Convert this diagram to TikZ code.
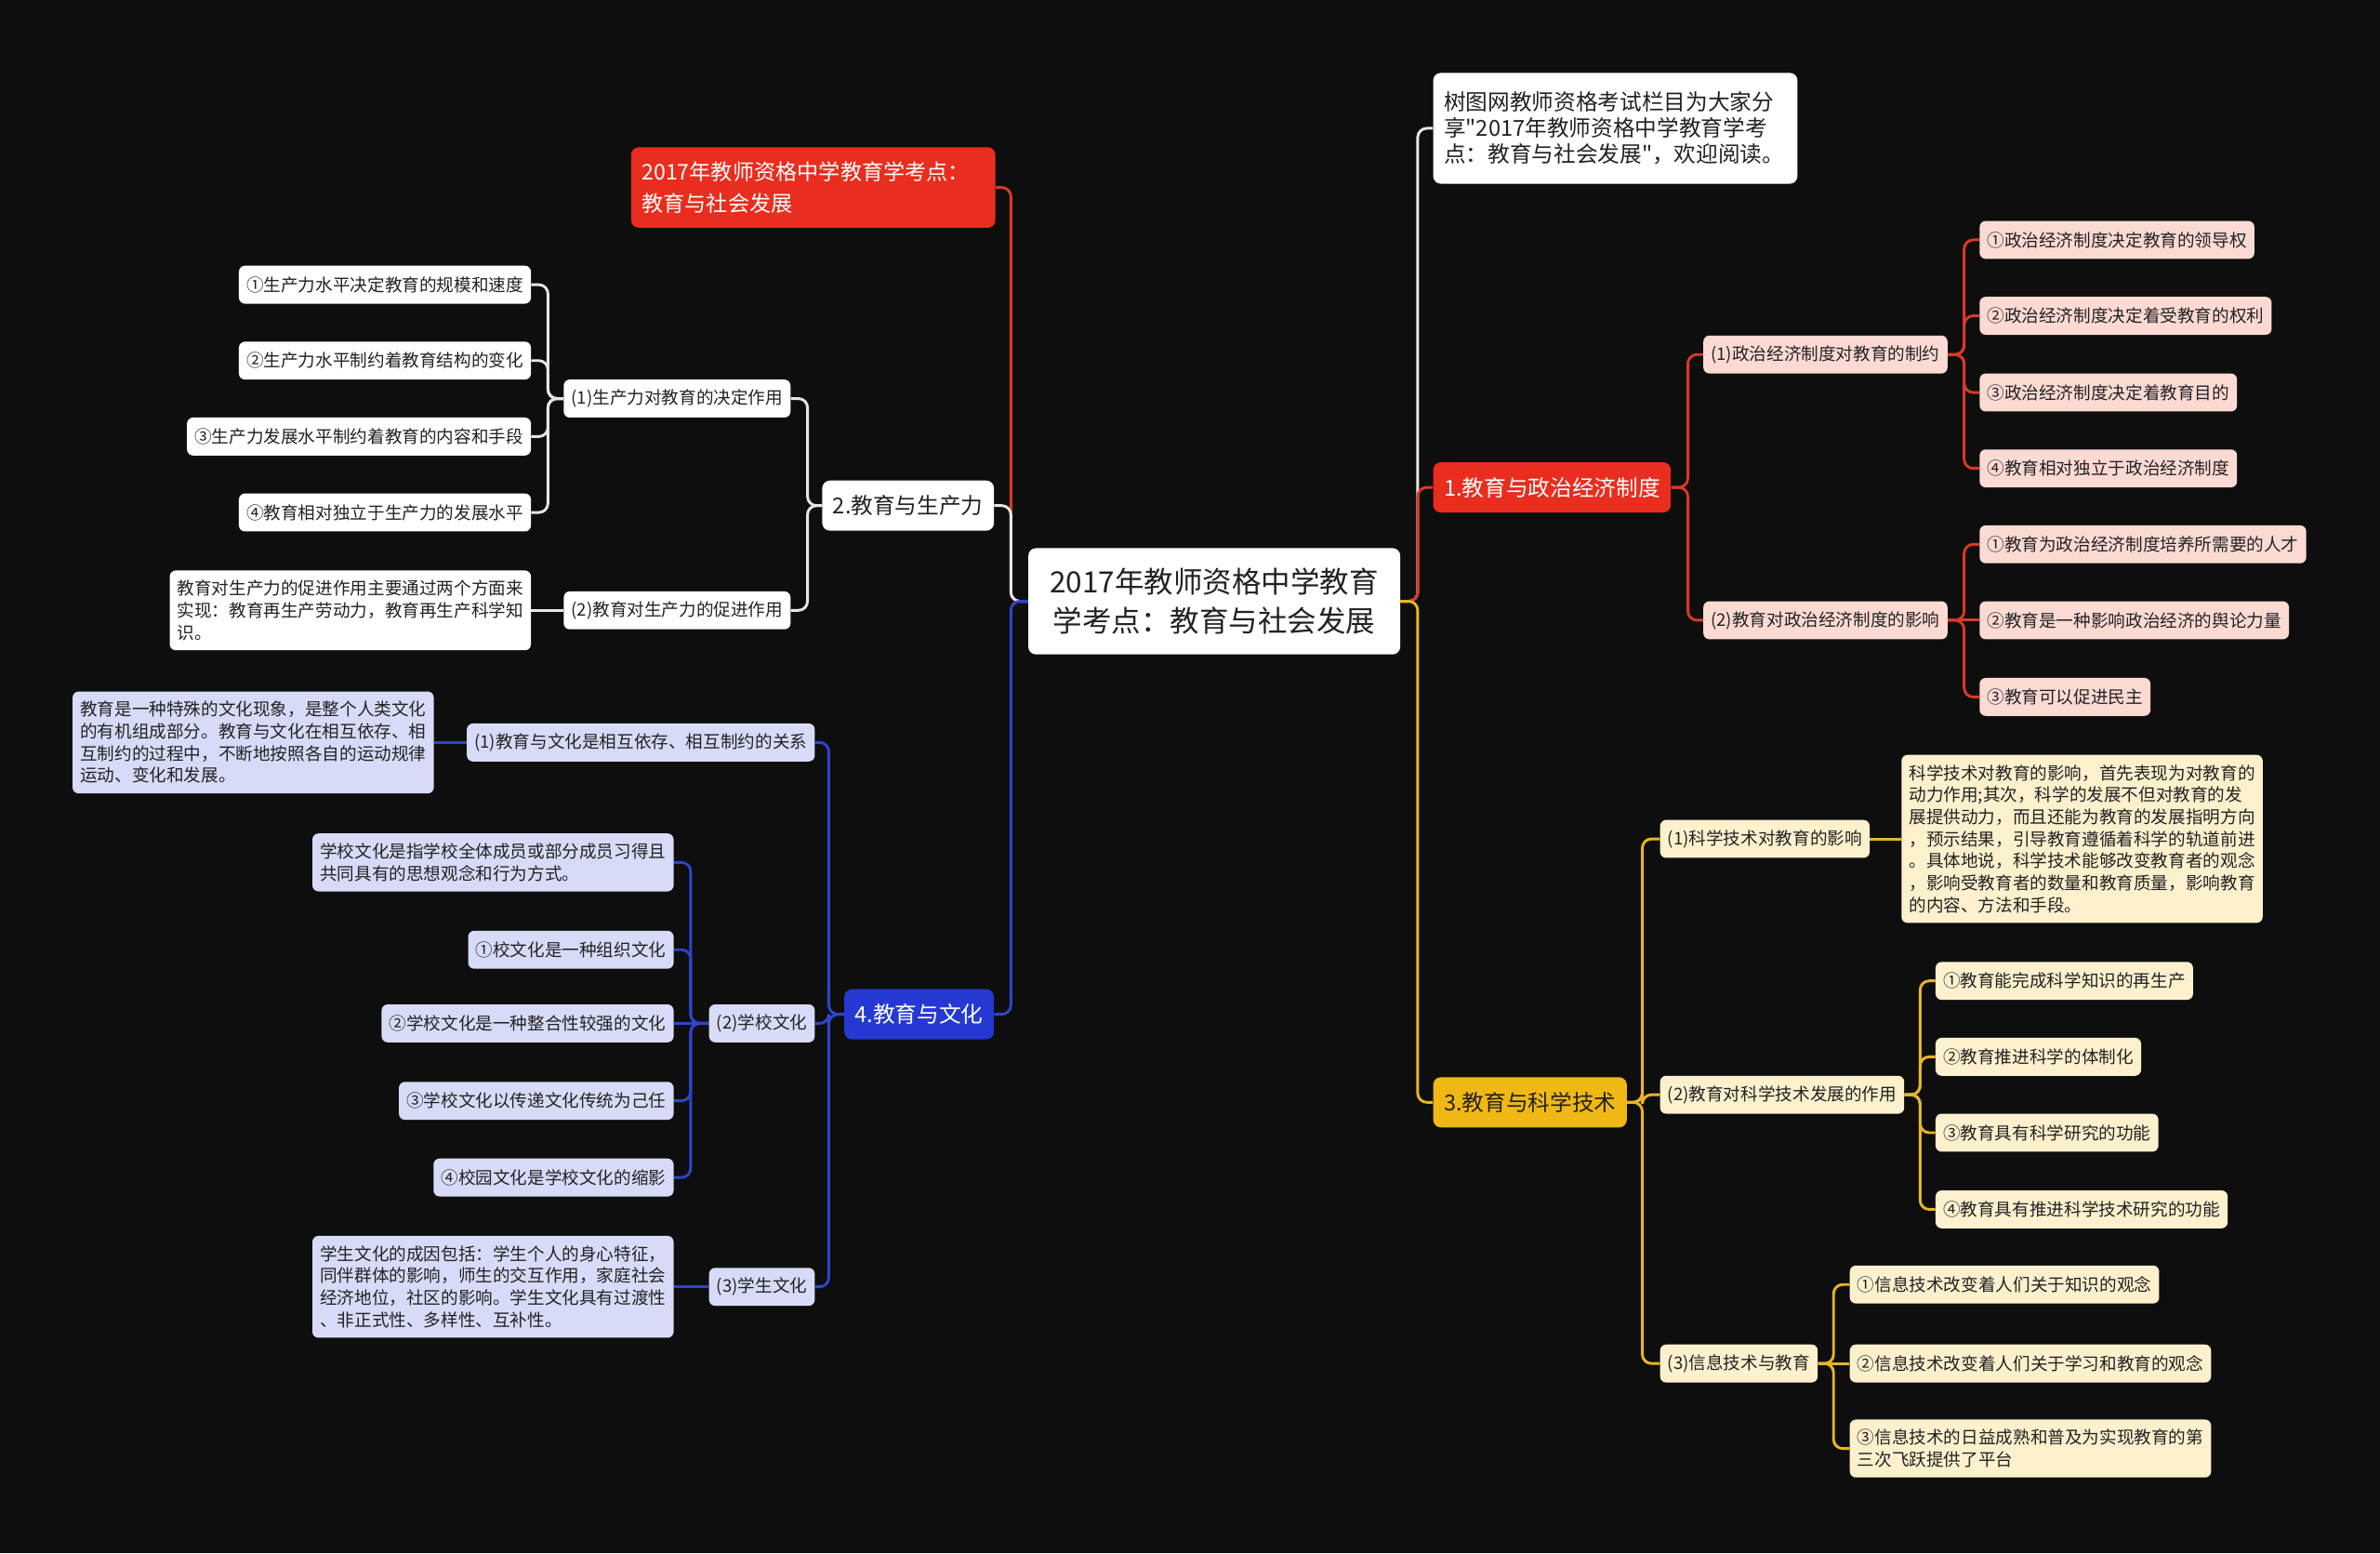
\documentclass[tikz,border=0pt]{standalone}
\usepackage{fontspec}
\setmainfont{Noto Sans CJK SC}[Ligatures=TeXOff]
\usetikzlibrary{backgrounds}
\definecolor{bg}{HTML}{0E0E0E}
\definecolor{txt}{HTML}{222222}
\definecolor{redm}{HTML}{E92D1E}
\definecolor{redl}{HTML}{D83A28}
\definecolor{pinkf}{HTML}{FCDAD4}
\definecolor{yelm}{HTML}{F0B814}
\definecolor{yell}{HTML}{E9B526}
\definecolor{creamf}{HTML}{FDF0CD}
\definecolor{bluem}{HTML}{2539D2}
\definecolor{bluel}{HTML}{2E45CC}
\definecolor{lavf}{HTML}{D7DBF7}
\definecolor{whl}{HTML}{E6E6E6}
\newcommand\myfs[2]{\fontsize{#1}{#2}\selectfont}
\newcommand\lk[4]{\draw[conn,#1] (#2) -- (#2 -| #3) |- (#4);}
\newcommand\st[3]{\draw[conn,#1] (#2) -- (#2 -| #3);}
\tikzset{
  nd/.style={rounded corners=4pt, inner xsep=5pt, inner ysep=0pt, minimum height=25pt, font=\myfs{11.4}{14.5}, text=txt},
  pk/.style={nd, fill=pinkf},
  cr/.style={nd, fill=creamf},
  lv/.style={nd, fill=lavf},
  wh/.style={nd, fill=white},
  blk/.style={align=left, inner ysep=6.5pt},
  mainn/.style={rounded corners=5pt, inner xsep=7pt, inner ysep=0pt, minimum height=33pt, font=\myfs{14.5}{17}},
  conn/.style={line width=1.8pt, rounded corners=6pt},
}
\begin{document}
\begin{tikzpicture}[x=1pt,y=-1pt]
\useasboundingbox (0,0) rectangle (1568,1023);
% root and main branches
\node[fill=white, text=txt, rounded corners=5pt, align=center, font=\myfs{19.3}{26}, minimum width=245pt, minimum height=70pt, inner sep=0pt] (root) at (800,396) {2017年教师资格中学教育\\学考点：教育与社会发展};
\node[fill=redm, text=white, rounded corners=5pt, align=left, text width=226pt, inner xsep=7pt, inner ysep=0pt, minimum height=53pt, font=\myfs{14.2}{20.4}, anchor=east] (title) at (656,123.5) {2017年教师资格中学教育学考点：\\教育与社会发展};
\node[fill=white, text=txt, rounded corners=5pt, align=left, text width=226pt, inner xsep=7pt, inner ysep=0pt, minimum height=73pt, font=\myfs{14.5}{17}, anchor=west] (intro) at (944,84.5) {树图网教师资格考试栏目为大家分\\享"2017年教师资格中学教育学考\\点：教育与社会发展"，欢迎阅读。};
\node[mainn, fill=redm, text=white, anchor=west] (b1) at (944,321) {1.教育与政治经济制度};
\node[mainn, fill=white, text=txt, anchor=east] (b2) at (655,333) {2.教育与生产力};
\node[mainn, fill=yelm, text=txt, anchor=west] (b3) at (944,726) {3.教育与科学技术};
\node[mainn, fill=bluem, text=white, anchor=east] (b4) at (655,668) {4.教育与文化};
% branch 2
\node[wh, anchor=east] (p1) at (521,262.5) {(1)生产力对教育的决定作用};
\node[wh, anchor=east] (p2) at (521,402) {(2)教育对生产力的促进作用};
\node[wh, anchor=east] (p11) at (350,187.5) {①生产力水平决定教育的规模和速度};
\node[wh, anchor=east] (p12) at (350,237.5) {②生产力水平制约着教育结构的变化};
\node[wh, anchor=east] (p13) at (350,287.5) {③生产力发展水平制约着教育的内容和手段};
\node[wh, anchor=east] (p14) at (350,337.5) {④教育相对独立于生产力的发展水平};
\node[wh, blk, anchor=east] (pA) at (350,402) {教育对生产力的促进作用主要通过两个方面来\\实现：教育再生产劳动力，教育再生产科学知\\识。};
% branch 4
\node[lv, anchor=east] (c1) at (537,489) {(1)教育与文化是相互依存、相互制约的关系};
\node[lv, blk, anchor=east] (cB) at (286,489) {教育是一种特殊的文化现象，是整个人类文化\\的有机组成部分。教育与文化在相互依存、相\\互制约的过程中，不断地按照各自的运动规律\\运动、变化和发展。};
\node[lv, anchor=east] (c2) at (537,674) {(2)学校文化};
\node[lv, blk, anchor=east] (cC) at (444,568) {学校文化是指学校全体成员或部分成员习得且\\共同具有的思想观念和行为方式。};
\node[lv, anchor=east] (c21) at (444,625.5) {①校文化是一种组织文化};
\node[lv, anchor=east] (c22) at (444,674) {②学校文化是一种整合性较强的文化};
\node[lv, anchor=east] (c23) at (444,725) {③学校文化以传递文化传统为己任};
\node[lv, anchor=east] (c24) at (444,775.5) {④校园文化是学校文化的缩影};
\node[lv, anchor=east] (c3) at (537,847.5) {(3)学生文化};
\node[lv, blk, anchor=east] (cD) at (444,847.5) {学生文化的成因包括：学生个人的身心特征，\\同伴群体的影响，师生的交互作用，家庭社会\\经济地位，社区的影响。学生文化具有过渡性\\、非正式性、多样性、互补性。};
% branch 1
\node[pk, anchor=west] (a1) at (1122,233.5) {(1)政治经济制度对教育的制约};
\node[pk, anchor=west] (a11) at (1304,158) {①政治经济制度决定教育的领导权};
\node[pk, anchor=west] (a12) at (1304,208) {②政治经济制度决定着受教育的权利};
\node[pk, anchor=west] (a13) at (1304,258.5) {③政治经济制度决定着教育目的};
\node[pk, anchor=west] (a14) at (1304,308.5) {④教育相对独立于政治经济制度};
\node[pk, anchor=west] (a2) at (1122,408.5) {(2)教育对政治经济制度的影响};
\node[pk, anchor=west] (a21) at (1304,358.5) {①教育为政治经济制度培养所需要的人才};
\node[pk, anchor=west] (a22) at (1304,408.5) {②教育是一种影响政治经济的舆论力量};
\node[pk, anchor=west] (a23) at (1304,459) {③教育可以促进民主};
% branch 3
\node[cr, anchor=west] (s1) at (1093.5,552.5) {(1)科学技术对教育的影响};
\node[cr, blk, anchor=west] (sE) at (1252.5,552.5) {科学技术对教育的影响，首先表现为对教育的\\动力作用;其次，科学的发展不但对教育的发\\展提供动力，而且还能为教育的发展指明方向\\，预示结果，引导教育遵循着科学的轨道前进\\。具体地说，科学技术能够改变教育者的观念\\，影响受教育者的数量和教育质量，影响教育\\的内容、方法和手段。};
\node[cr, anchor=west] (s2) at (1093.5,721) {(2)教育对科学技术发展的作用};
\node[cr, anchor=west] (s21) at (1275,646) {①教育能完成科学知识的再生产};
\node[cr, anchor=west] (s22) at (1275,696) {②教育推进科学的体制化};
\node[cr, anchor=west] (s23) at (1275,746) {③教育具有科学研究的功能};
\node[cr, anchor=west] (s24) at (1275,796.5) {④教育具有推进科学技术研究的功能};
\node[cr, anchor=west] (s3) at (1093.5,898) {(3)信息技术与教育};
\node[cr, anchor=west] (s31) at (1218.5,846) {①信息技术改变着人们关于知识的观念};
\node[cr, anchor=west] (s32) at (1218.5,898) {②信息技术改变着人们关于学习和教育的观念};
\node[cr, blk, anchor=west] (s33) at (1218.5,954) {③信息技术的日益成熟和普及为实现教育的第\\三次飞跃提供了平台};
% trunks
\coordinate (tL) at (666,0);
\coordinate (tR) at (934,0);
\coordinate (t2) at (532,0);
\coordinate (t21) at (361,0);
\coordinate (t4) at (546,0);
\coordinate (t42) at (455,0);
\coordinate (t1) at (1112,0);
\coordinate (t11) at (1294,0);
\coordinate (t3) at (1082,0);
\coordinate (t32) at (1265,0);
\coordinate (t33) at (1208,0);
\begin{pgfonlayer}{background}
\fill[bg] (0,0) rectangle (1568,1023);
% root
\lk{redl}{root.west}{tL}{title.east}
\lk{whl}{root.west}{tL}{b2.east}
\lk{bluel}{root.west}{tL}{b4.east}
\lk{whl}{root.east}{tR}{intro.west}
\lk{redl}{root.east}{tR}{b1.west}
\lk{yell}{root.east}{tR}{b3.west}
% branch 2
\lk{whl}{b2.west}{t2}{p1.east}
\lk{whl}{b2.west}{t2}{p2.east}
\lk{whl}{p1.west}{t21}{p11.east}
\lk{whl}{p1.west}{t21}{p12.east}
\lk{whl}{p1.west}{t21}{p13.east}
\lk{whl}{p1.west}{t21}{p14.east}
\st{whl}{p2.west}{pA.east}
% branch 4
\lk{bluel}{b4.west}{t4}{c1.east}
\lk{bluel}{b4.west}{t4}{c2.east}
\lk{bluel}{b4.west}{t4}{c3.east}
\st{bluel}{c1.west}{cB.east}
\lk{bluel}{c2.west}{t42}{cC.east}
\lk{bluel}{c2.west}{t42}{c21.east}
\st{bluel}{c2.west}{c22.east}
\lk{bluel}{c2.west}{t42}{c23.east}
\lk{bluel}{c2.west}{t42}{c24.east}
\st{bluel}{c3.west}{cD.east}
% branch 1
\lk{redl}{b1.east}{t1}{a1.west}
\lk{redl}{b1.east}{t1}{a2.west}
\lk{redl}{a1.east}{t11}{a11.west}
\lk{redl}{a1.east}{t11}{a12.west}
\lk{redl}{a1.east}{t11}{a13.west}
\lk{redl}{a1.east}{t11}{a14.west}
\lk{redl}{a2.east}{t11}{a21.west}
\st{redl}{a2.east}{a22.west}
\lk{redl}{a2.east}{t11}{a23.west}
% branch 3
\lk{yell}{b3.east}{t3}{s1.west}
\lk{yell}{b3.east}{t3}{s2.west}
\lk{yell}{b3.east}{t3}{s3.west}
\st{yell}{s1.east}{sE.west}
\lk{yell}{s2.east}{t32}{s21.west}
\lk{yell}{s2.east}{t32}{s22.west}
\lk{yell}{s2.east}{t32}{s23.west}
\lk{yell}{s2.east}{t32}{s24.west}
\lk{yell}{s3.east}{t33}{s31.west}
\st{yell}{s3.east}{s32.west}
\lk{yell}{s3.east}{t33}{s33.west}
\end{pgfonlayer}
\end{tikzpicture}
\end{document}
